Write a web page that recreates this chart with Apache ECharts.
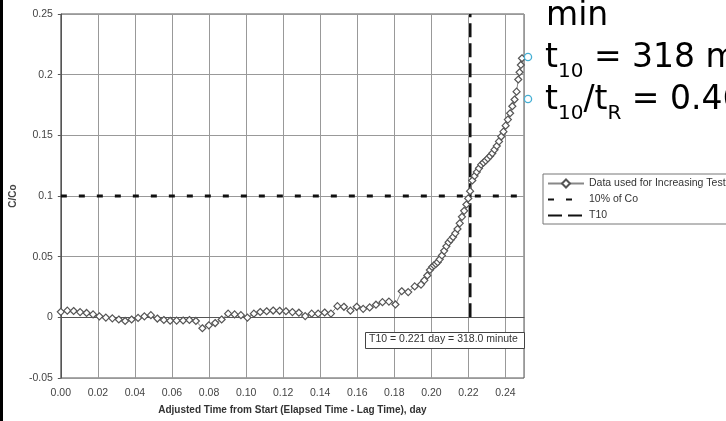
<!DOCTYPE html>
<html><head><meta charset="utf-8">
<script src="https://cdn.jsdelivr.net/npm/echarts@6/dist/echarts.min.js"></script>
<style>html,body{margin:0;padding:0;background:#fff}#c{width:726px;height:421px}</style>
</head><body><div id="c"></div>
<script>
// ---- data ----
const timeDay = [0,0.0035,0.0069,0.0104,0.0139,0.0174,0.0208,0.0243,0.0278,0.0313,0.0347,0.0382,0.0417,0.0451,0.0486,0.0521,0.0556,0.0590,0.0625,0.0660,0.0694,0.0729,0.0764,0.0799,0.0833,0.0868,0.0903,0.0938,0.0972,0.1007,0.1042,0.1076,0.1111,0.1146,0.1181,0.1215,0.1250,0.1285,0.1319,0.1354,0.1389,0.1424,0.1458,0.1493,0.1528,0.1563,0.1597,0.1632,0.1667,0.1701,0.1736,0.1771,0.1806,0.1840,0.1875,0.1910,0.1944,
 0.1962,0.1978,0.1992,0.2004,0.2014,0.2024,0.2034,0.2045,0.2057,0.2069,0.2081,0.2093,0.2105,0.2117,0.2129,0.2141,0.2153,0.2165,0.2177,0.2189,0.2199,0.2209,0.2221,0.2233,0.2245,0.2257,0.2269,0.2281,0.2293,0.2305,0.2317,0.2329,0.2341,0.2353,0.2365,0.2377,0.2389,0.2401,0.2413,0.2425,0.2437,0.2449,0.2460,0.2469,0.2476,0.2483,0.2489];
const cOverCo = [0.0045,0.0055,0.0052,0.0043,0.0036,0.0024,0.0008,-0.0002,-0.0008,-0.0018,-0.0030,-0.0018,-0.0005,0.0008,0.0018,-0.0010,-0.0022,-0.0028,-0.0027,-0.0026,-0.0022,-0.0030,-0.0090,-0.0066,-0.0047,-0.0018,0.0030,0.0024,0.0018,-0.0002,0.0030,0.0044,0.0050,0.0056,0.0054,0.0050,0.0043,0.0038,0.0010,0.0030,0.0031,0.0040,0.0031,0.0092,0.0087,0.0055,0.0087,0.0070,0.0082,0.0104,0.0125,0.0130,0.0106,0.0215,0.0208,0.0255,0.0270,
 0.0305,0.0345,0.0390,0.0415,0.0428,0.0440,0.0455,0.0478,0.0510,0.0548,0.0585,0.0618,0.0640,0.0662,0.0692,0.0728,0.0775,0.0828,0.0878,0.0930,0.0980,0.1040,0.1128,0.1165,0.1198,0.1228,0.1258,0.1275,0.1292,0.1310,0.1330,0.1352,0.1382,0.1412,0.1450,0.1490,0.1530,0.1580,0.1630,0.1682,0.1740,0.1795,0.1860,0.1960,0.2020,0.2080,0.2135];
const tenPctX = [0, 0.25];
const tenPctY = [0.1, 0.1];
const t10X = [0.221, 0.221];
const t10Y = [0, 0.25];
const seriesNames = ['Data used for Increasing Test', '10% of Co', 'T10'];
const annotation = 'T10 = 0.221 day = 318.0 minute';
const xTitle = 'Adjusted Time from Start (Elapsed Time - Lag Time), day';
const yTitle = 'C/Co';

const chart = echarts.init(document.getElementById('c'), null, {renderer: 'canvas'});
const pairs = (xs, ys) => xs.map((x, i) => [x, ys[i]]);
const lbl = {fontFamily: 'Liberation Sans', fontSize: 10.5, color: '#444'};

// slide text layout helpers
const mctx = document.createElement('canvas').getContext('2d');
function tw(t, fs) { mctx.font = fs + 'px "DejaVu Sans"'; return mctx.measureText(t).width; }
const slideEls = [];
function slideLine(x0, baseline, parts, fsMain, fsSub, subDrop) {
  let x = x0;
  parts.forEach(p => {
    const fs = p.sub ? fsSub : fsMain;
    const bl = p.sub ? baseline + subDrop : baseline;
    slideEls.push({type: 'text', x: x, y: bl - 0.3 * fs, z: 100,
      style: {text: p.t, font: fs + 'px "DejaVu Sans"', fill: '#000', verticalAlign: 'middle', align: 'left'}});
    x += tw(p.t, fs);
  });
}
slideLine(546, 26, [{t: 'min'}], 33, 20, 10);
slideLine(545, 68, [{t: 't'}, {t: '10', sub: 1}, {t: ' = 318 min'}], 33, 20, 10);
slideLine(545, 110, [{t: 't'}, {t: '10', sub: 1}, {t: '/t'}, {t: 'R', sub: 1}, {t: ' = 0.46'}], 33, 20, 10);
[57, 99].forEach(cy => slideEls.push({type: 'circle', z: 100, shape: {cx: 528, cy: cy, r: 3.6},
  style: {fill: '#fff', stroke: '#45AFD4', lineWidth: 1.3}}));

const hiddenSym = {color: 'rgba(0,0,0,0)', borderColor: 'rgba(0,0,0,0)', borderWidth: 0};
const option = {
  animation: false,
  backgroundColor: '#fff',
  grid: {left: 58, right: 202, top: 14, bottom: 43, show: true, borderColor: '#555', borderWidth: 1},
  xAxis: {
    type: 'value', min: 0, max: 0.25, interval: 0.02,
    name: xTitle, nameLocation: 'middle', nameGap: 27,
    nameTextStyle: {fontFamily: 'Liberation Sans', fontSize: 10, fontWeight: 'bold', color: '#333'},
    axisLine: {show: true, lineStyle: {color: '#555'}},
    axisTick: {show: false},
    axisLabel: Object.assign({margin: 10, showMaxLabel: false, formatter: v => v.toFixed(2)}, lbl),
    splitLine: {show: true, lineStyle: {color: '#999', width: 1}}
  },
  yAxis: {
    type: 'value', min: -0.05, max: 0.25, interval: 0.05,
    name: yTitle, nameLocation: 'middle', nameGap: 40, nameRotate: 90,
    nameTextStyle: {fontFamily: 'Liberation Sans', fontSize: 10, fontWeight: 'bold', color: '#444'},
    axisLine: {show: true, lineStyle: {color: '#555'}},
    axisTick: {show: true, length: 3, inside: false, lineStyle: {color: '#555'}},
    axisLabel: Object.assign({margin: 8}, lbl),
    splitLine: {show: true, lineStyle: {color: '#999', width: 1}}
  },
  legend: {
    orient: 'vertical', left: 543, top: 174, padding: [4, 200, 3, 4],
    itemWidth: 36, itemHeight: 10, itemGap: 5,
    borderColor: '#777', borderWidth: 1, backgroundColor: '#fff',
    textStyle: {fontFamily: 'Liberation Sans', fontSize: 10.5, color: '#333'},
    data: [
      {name: seriesNames[0]},
      {name: seriesNames[1], itemStyle: hiddenSym},
      {name: seriesNames[2], itemStyle: hiddenSym}
    ]
  },
  series: [
    {name: seriesNames[1], type: 'line', data: pairs(tenPctX, tenPctY), symbol: 'none', z: 3,
     itemStyle: {color: '#111'},
     lineStyle: {color: '#111', width: 3, type: [6, 12]}},
    {name: seriesNames[2], type: 'line', data: pairs(t10X, t10Y), symbol: 'none', z: 3,
     itemStyle: {color: '#111'},
     lineStyle: {color: '#111', width: 2.5, type: [14, 6]}},
    {name: seriesNames[0], type: 'line', data: pairs(timeDay, cOverCo), z: 4,
     symbol: 'diamond', symbolSize: 7, showAllSymbol: true,
     lineStyle: {color: '#888', width: 1},
     itemStyle: {color: '#fff', borderColor: '#555', borderWidth: 1.2}}
  ],
  graphic: [
    {type: 'rect', left: 0, top: 0, shape: {width: 3, height: 421}, style: {fill: '#000'}, z: 100},
    {type: 'rect', left: 365, top: 332, shape: {width: 159, height: 16}, style: {fill: '#fff', stroke: '#444', lineWidth: 1}, z: 50},
    {type: 'text', left: 369, top: 334, z: 51, style: {text: annotation, font: '10.5px "Liberation Sans"', fill: '#333'}}
  ].concat(slideEls)
};
chart.setOption(option);
</script></body></html>
